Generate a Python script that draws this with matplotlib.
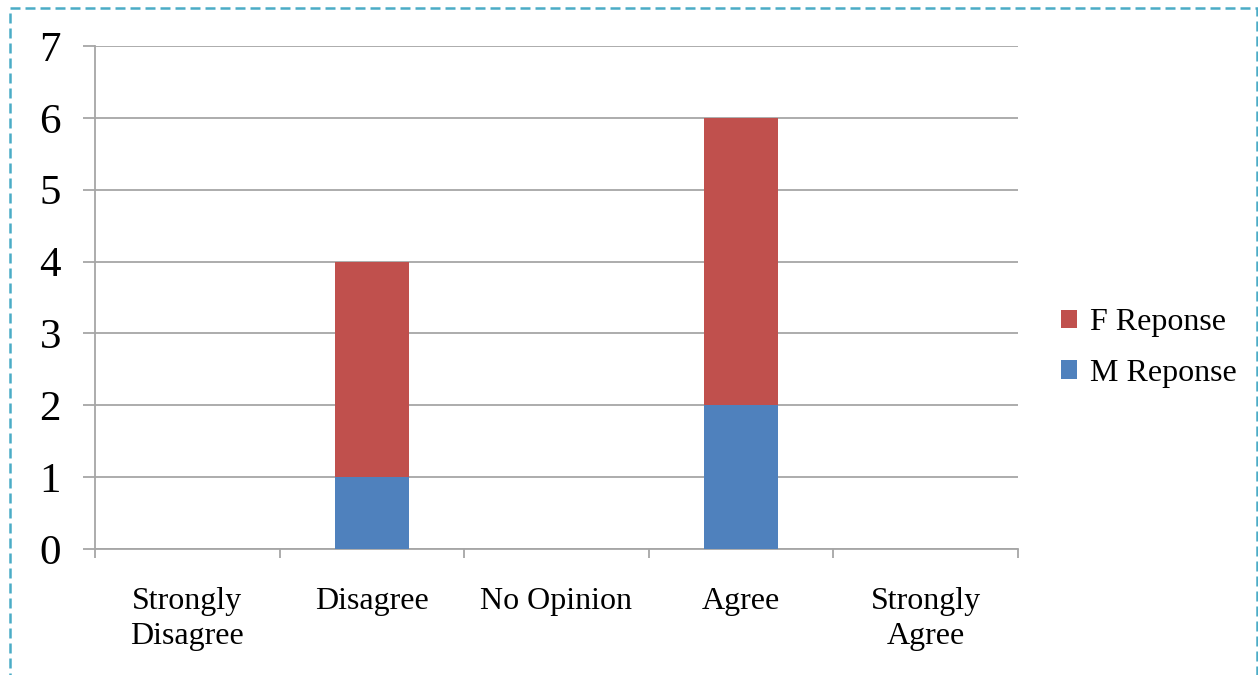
import matplotlib
matplotlib.use('Agg')
import matplotlib.pyplot as plt
from matplotlib.patches import Patch, Rectangle

# survey answers, split by respondent gender
categories = ['Strongly\nDisagree', 'Disagree', 'No Opinion', 'Agree', 'Strongly\nAgree']
m_response = [0, 1, 0, 2, 0]
f_response = [0, 3, 0, 4, 0]

BLUE = '#4F81BD'
RED = '#C0504D'
GRID = '#A6A6A6'

plt.rcParams['font.family'] = ['Liberation Serif', 'DejaVu Serif']

W, H = 1258, 675
fig = plt.figure(figsize=(W / 100, H / 100), dpi=100)
ax = fig.add_axes([95 / W, 1 - 549 / H, (1018 - 95) / W, (549 - 46) / H])

xs = list(range(len(categories)))
ax.bar(xs, m_response, width=0.4, color=BLUE, zorder=3)
ax.bar(xs, f_response, width=0.4, bottom=m_response, color=RED, zorder=3)

ax.set_xlim(-0.5, len(categories) - 0.5)
ax.set_ylim(0, 7)
ax.set_yticks(range(8))
ax.yaxis.grid(True, color=GRID, linewidth=1.3, zorder=0)

# category labels centred, tick marks between categories
ax.set_xticks(xs)
ax.set_xticklabels(categories, fontsize=23, linespacing=1.3)
ax.set_xticks([x - 0.5 for x in xs] + [len(xs) - 0.5], minor=True)
ax.tick_params(axis='x', which='major', length=0, pad=27)
ax.tick_params(axis='x', which='minor', length=6.5, width=1.3, color=GRID)
ax.tick_params(axis='y', length=8.5, width=1.3, color=GRID, pad=16, labelsize=31)

for side in ('top', 'right'):
    ax.spines[side].set_visible(False)
for side in ('left', 'bottom'):
    ax.spines[side].set_color(GRID)
    ax.spines[side].set_linewidth(1.3)

handles = [Patch(facecolor=RED, label='F Reponse'),
           Patch(facecolor=BLUE, label='M Reponse')]
fig.legend(handles=handles, loc='center left', bbox_to_anchor=(1061 / W, 1 - 348 / H),
           frameon=False, fontsize=23, handlelength=0.5, handleheight=0.5,
           handletextpad=0.4, labelspacing=0.68, borderpad=0, borderaxespad=0)

# dashed frame around the whole chart
fig.add_artist(Rectangle((10 / W, -0.05), (1257 - 10) / W, 1.05 - 8 / H,
                         transform=fig.transFigure, fill=False,
                         edgecolor='#4BACC6', linewidth=1.8, linestyle=(0, (4, 2))))

fig.savefig('out.png', dpi=100)
